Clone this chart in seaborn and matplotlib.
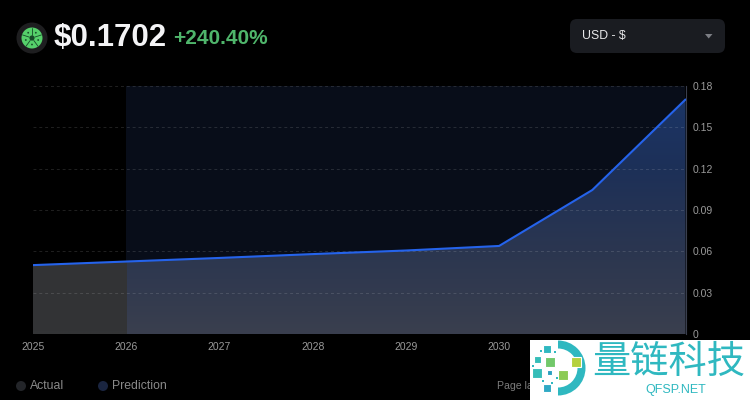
import numpy as np
import pandas as pd
import seaborn as sns
import matplotlib.pyplot as plt
from matplotlib.colors import LinearSegmentedColormap
from matplotlib.patches import Circle, FancyBboxPatch, Polygon, Rectangle, Wedge

years = [2025, 2026, 2027, 2028, 2029, 2030, 2031, 2032]
prices = [0.0500, 0.0526, 0.0552, 0.0580, 0.0606, 0.0639, 0.1045, 0.1702]
x_labels = ["2025", "2026", "2027", "2028", "2029", "2030", "", ""]
y_ticks = [0, 0.03, 0.06, 0.09, 0.12, 0.15, 0.18]
y_labels = ["0", "0.03", "0.06", "0.09", "0.12", "0.15", "0.18"]
price_text = "$0.1702"
change_text = "+240.40%"
currency_text = "USD - $"
legend_names = ["Actual", "Prediction"]

sns.set_theme(style="dark")
plt.rcParams["font.family"] = ["Liberation Sans", "Noto Sans CJK SC", "DejaVu Sans"]

df = pd.DataFrame({"year": years, "price": prices})

fig = plt.figure(figsize=(7.5, 4), dpi=100, facecolor="black")
ax = fig.add_axes([33 / 750, 1 - 334 / 400, 652.5 / 750, 248 / 400], facecolor="black")

# prediction band
ax.axvspan(2026, 2032, color="#080d19", lw=0, zorder=0)

# gradient under the line, grey for actual and blue for prediction
grad = np.linspace(0, 1, 256).reshape(-1, 1)
blue = LinearSegmentedColormap.from_list("blue", ["#1b3668", "#1d3058", "#2b3650", "#3a3f4e"])
grey = LinearSegmentedColormap.from_list("grey", ["#2a2c30", "#333436"])
poly = ax.fill_between(df["year"], df["price"], 0, color="none", lw=0)
clip = poly.get_paths()[0]
for cmap, ext, vmin in [(blue, (2026, 2032, 0, 0.18), 0), (grey, (2025, 2026, 0, 0.18), -2.5)]:
    im = ax.imshow(grad, cmap=cmap, extent=ext, aspect="auto", vmin=vmin, vmax=1, zorder=1)
    im.set_clip_path(clip, transform=ax.transData)

sns.lineplot(data=df, x="year", y="price", color="#2563eb", linewidth=1.5, ax=ax, zorder=3)

ax.set_xlim(2025, 2032)
ax.set_ylim(0, 0.18)
ax.set_xlabel("")
ax.set_ylabel("")
ax.set_xticks(years)
ax.set_xticklabels(x_labels)
ax.yaxis.tick_right()
ax.set_yticks(y_ticks)
ax.set_yticklabels(y_labels)
ax.tick_params(axis="x", colors="#9a9a9a", labelsize=7.5, length=0, pad=6)
ax.tick_params(axis="y", colors="#9a9a9a", labelsize=7.5, length=0, pad=5)
ax.grid(axis="y", color="white", alpha=0.13, linestyle=(0, (3, 3)), linewidth=0.7)
ax.grid(axis="x", visible=False)
ax.set_axisbelow(False)
for name, spine in ax.spines.items():
    spine.set_visible(name == "right")
ax.spines["right"].set_color("#3a3f4e")
ax.spines["right"].set_linewidth(0.8)

# page furniture, in pixel coordinates
top = fig.add_axes([0, 0, 1, 1], zorder=5)
top.set_xlim(0, 750)
top.set_ylim(400, 0)
top.axis("off")

# coin icon
top.add_patch(Circle((32, 38), 15.5, color="#1e1e20", lw=0))
top.add_patch(Circle((32, 38), 10.5, color="#55d06a", lw=0))
for a in np.deg2rad(np.arange(-90, 270, 72)):
    top.add_patch(Circle((32 + 6.5 * np.cos(a + 0.63), 38 + 6.5 * np.sin(a + 0.63)), 0.9, color="#174a28", lw=0))
    top.plot([32 + 3 * np.cos(a), 32 + 10 * np.cos(a)], [38 + 3 * np.sin(a), 38 + 10 * np.sin(a)],
             color="#174a28", lw=0.6)
top.add_patch(Circle((32, 38), 2.6, color="#174a28", lw=0))

top.text(54, 38, price_text, color="#f4f4f6", fontsize=22.5, fontweight="bold", va="center", parse_math=False)
top.text(173, 39, change_text, color="#4fb56b", fontsize=15, fontweight="bold", va="center", parse_math=False)

# currency select
top.add_patch(FancyBboxPatch((570, 19), 155, 34, boxstyle="round,pad=0,rounding_size=7", lw=0, color="#1a1c21"))
top.text(582, 36, currency_text, color="#e8e8ea", fontsize=8.8, va="center", parse_math=False)
top.add_patch(Polygon([[705, 34], [712.5, 34], [708.7, 38.5]], color="#7c7e84", lw=0))

# legend
top.add_patch(Circle((21, 386), 5, color="#232529", lw=0))
top.add_patch(Circle((103, 386), 5, color="#1a2540", lw=0))
top.text(30, 386, legend_names[0], color="#8a8a8a", fontsize=8.8, va="center")
top.text(112, 386, legend_names[1], color="#8a8a8a", fontsize=8.8, va="center")
top.text(497, 386, "Page la", color="#7c7c7c", fontsize=7.6, va="center")

# watermark
top.add_patch(Rectangle((530, 340), 220, 60, color="white", lw=0, zorder=4))
teal = "#2fb8c0"
top.add_patch(Wedge((558, 368), 27.5, -90, 90, width=8, color=teal, lw=0, zorder=5))
squares = [(547, 349, 8, teal), (537, 359, 7, "#35bdb8"), (550, 362, 10, "#72c86a"), (576, 362, 10, "#b5d13f"),
           (537, 373, 10, "#35bdb8"), (549, 372, 5, "#2a9fc0"), (563, 375, 10, "#8ccb55"), (547, 388, 8, "#2fa9c4")]
for x, y, s, c in squares:
    top.add_patch(Rectangle((x - s / 2, y - s / 2), s, s, facecolor=c, edgecolor="white", lw=0.8, zorder=6))
for x, y in [(541, 351), (533, 366), (555, 352), (552, 383), (543, 381), (557, 378)]:
    top.add_patch(Rectangle((x - 1, y - 1), 2, 2, color=teal, lw=0, zorder=6))
top.text(668.5, 363, "量链科技", color=teal, fontsize=27.5, ha="center", va="center", zorder=6)
top.text(675.5, 389.5, "QFSP.NET", color=teal, fontsize=9, ha="center", va="center", zorder=6)

fig.savefig("out.png", dpi=100, facecolor="black")
